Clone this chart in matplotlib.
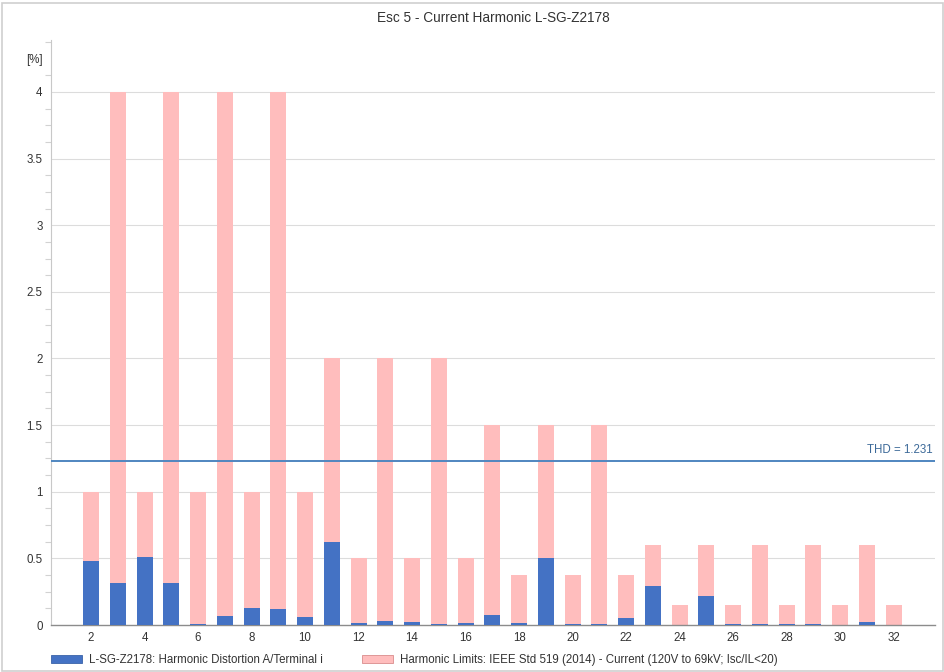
import matplotlib
matplotlib.use("Agg")
import matplotlib.pyplot as plt
from matplotlib.patches import Patch, Rectangle
from matplotlib.ticker import MultipleLocator, FixedLocator

plt.rcParams['font.family'] = ['Liberation Sans', 'DejaVu Sans']

harmonics = list(range(2, 33))
distortion = [0.48, 0.315, 0.51, 0.315, 0.005, 0.07, 0.13, 0.12, 0.06, 0.62,
              0.015, 0.03, 0.02, 0.01, 0.015, 0.075, 0.015, 0.50, 0.01, 0.005,
              0.05, 0.29, 0.003, 0.22, 0.01, 0.01, 0.01, 0.005, 0.003, 0.02, 0.003]
limits = [1, 4, 1, 4, 1, 4, 1, 4, 1, 2,
          0.5, 2, 0.5, 2, 0.5, 1.5, 0.375, 1.5, 0.375, 1.5,
          0.375, 0.6, 0.15, 0.6, 0.15, 0.6, 0.15, 0.6, 0.15, 0.6, 0.15]
thd = 1.231
title = "Esc 5 - Current Harmonic L-SG-Z2178"
label_dist = "L-SG-Z2178: Harmonic Distortion A/Terminal i"
label_lim = "Harmonic Limits: IEEE Std 519 (2014) - Current (120V to 69kV; Isc/IL<20)"
y_major = [0, 0.5, 1, 1.5, 2, 2.5, 3, 3.5, 4]
y_labels = ["0", "0.5", "1", "1.5", "2", "2.5", "3", "3.5", "4"]
x_ticks = list(range(2, 33, 2))

blue = "#4472C4"
pink = "#FFBDBD"
text_col = "#333333"
axis_col = "#8c8c8c"
fs = 8.3

fig = plt.figure(figsize=(9.45, 6.72), dpi=100)
ax = fig.add_axes([51/945, 1 - 625/672, (935-51)/945, (625-40)/672])

ax.bar(harmonics, limits, width=0.6, color=pink, zorder=2)
ax.bar(harmonics, distortion, width=0.6, color=blue, zorder=3)
ax.axhline(thd, color="#4f86c0", lw=1.4, zorder=4)
ax.text(33.45, thd + 0.04, f"THD = {thd}", ha="right", va="bottom",
        fontsize=fs, color="#3d6a99", zorder=5)

ax.set_xlim(0.5, 33.55)
ax.set_ylim(0, 4.39)

ax.yaxis.set_major_locator(FixedLocator(y_major + [4.25]))
ax.set_yticklabels(y_labels + ["[%]"])
ax.yaxis.set_minor_locator(MultipleLocator(0.125))
ax.tick_params(axis="y", which="major", length=0, labelsize=fs, labelcolor=text_col, pad=6)
ax.tick_params(axis="y", which="minor", length=4, color="#d2d2d2", width=0.8)
ax.set_xticks(x_ticks)
ax.tick_params(axis="x", length=0, labelsize=fs, labelcolor=text_col, pad=5)

for v in y_major[1:]:
    ax.axhline(v, color="#dcdcdc", lw=0.8, zorder=1)

for s in ["top", "right"]:
    ax.spines[s].set_visible(False)
ax.spines["left"].set_color("#c8c8c8")
ax.spines["left"].set_linewidth(0.8)
ax.spines["bottom"].set_color(axis_col)
ax.spines["bottom"].set_linewidth(1.0)

fig.text(493/945, 1 - 18/672, title, ha="center", va="center", fontsize=9.8, color=text_col)

handles = [Patch(facecolor=blue, edgecolor="#3a62a8", linewidth=0.6),
           Patch(facecolor=pink, edgecolor="#d98c8c", linewidth=0.6)]
leg = fig.legend(handles, [label_dist, label_lim], ncol=2, loc="center left",
                 bbox_to_anchor=(51/945, 1 - 660/672), frameon=False,
                 fontsize=fs, handlelength=2.7, handleheight=0.7,
                 handletextpad=0.6, columnspacing=3.4, borderaxespad=0, borderpad=0)
for t in leg.get_texts():
    t.set_color(text_col)

fig.patches.append(Rectangle((0.002, 0.002), 0.996, 0.994, transform=fig.transFigure,
                             fill=False, edgecolor="#cfcfcf", lw=1.2))

fig.savefig("out.png", dpi=100)
